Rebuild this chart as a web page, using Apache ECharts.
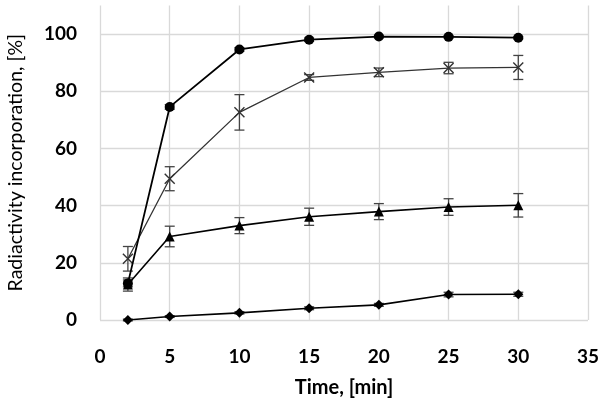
<!DOCTYPE html>
<html><head><meta charset="utf-8">
<script src="https://cdn.jsdelivr.net/npm/echarts@6/dist/echarts.min.js"></script>
<style>html,body{margin:0;padding:0;background:#fff}#c{width:600px;height:401px}</style>
</head><body><div id="c"></div>
<script>
const times = [2, 5, 10, 15, 20, 25, 30];
const circleVals = [12.8, 74.5, 94.6, 98, 99.1, 99, 98.7];
const circleErr  = [1.2, 0.8, 0.6, 0.6, 0.4, 0.4, 0.4];
const crossVals  = [21.4, 49.4, 72.6, 84.8, 86.6, 88.1, 88.3];
const crossErr   = [4.3, 4.2, 6.2, 1.0, 1.5, 2.0, 4.2];
const triVals    = [12.4, 29.2, 33.0, 36.1, 37.9, 39.5, 40.1];
const triErr     = [2.3, 3.6, 2.8, 3.0, 2.8, 2.9, 4.1];
const diaVals    = [0, 1.2, 2.5, 4.1, 5.3, 8.9, 9.0];
const diaErr     = [0.3, 0.3, 0.4, 0.5, 0.5, 0.8, 0.7];
const xTicks = [0, 5, 10, 15, 20, 25, 30, 35];
const yTicks = [0, 20, 40, 60, 80, 100];

function pts(vals){ return times.map((t,i)=>[t, vals[i]]); }
function errData(vals, errs){ return times.map((t,i)=>[t, vals[i]-errs[i], vals[i]+errs[i]]); }

function errSeries(vals, errs){
  return {
    type: 'custom',
    data: errData(vals, errs),
    z: 1,
    renderItem: function(params, api){
      const x = api.value(0);
      const lo = api.coord([x, api.value(1)]);
      const hi = api.coord([x, api.value(2)]);
      const w = 5;
      const st = {stroke: '#444', lineWidth: 1.3};
      return {type: 'group', children: [
        {type: 'line', shape: {x1: lo[0], y1: lo[1], x2: hi[0], y2: hi[1]}, style: st},
        {type: 'line', shape: {x1: lo[0]-w, y1: lo[1], x2: lo[0]+w, y2: lo[1]}, style: st},
        {type: 'line', shape: {x1: hi[0]-w, y1: hi[1], x2: hi[0]+w, y2: hi[1]}, style: st}
      ]};
    }
  };
}

const chart = echarts.init(document.getElementById('c'), null, {renderer: 'canvas'});
chart.setOption({
  animation: false,
  backgroundColor: '#fff',
  grid: {left: 100, right: 12, top: 5.4, bottom: 81, containLabel: false, outerBoundsMode: 'none'},
  xAxis: {
    type: 'value', min: 0, max: 35, interval: 5,
    name: 'Time, [min]', nameLocation: 'middle', nameGap: 58,
    nameTextStyle: {fontFamily: 'Lato', fontWeight: 'bold', fontSize: 20, color: '#000'},
    axisLine: {show: false}, axisTick: {show: false},
    axisLabel: {margin: 27, fontFamily: 'Lato', fontWeight: 'bold', fontSize: 19, color: '#000',
      formatter: v => xTicks.includes(v) ? String(v) : ''},
    splitLine: {show: true, lineStyle: {color: '#d9d9d9', width: 1.3}}
  },
  yAxis: {
    type: 'value', min: 0, max: 110, interval: 20,
    name: 'Radiactivity incorporation, [%]', nameLocation: 'middle', nameGap: 74,
    nameTextStyle: {fontFamily: 'Lato', fontWeight: 'normal', fontSize: 19.5, color: '#000'},
    axisLine: {show: false}, axisTick: {show: false},
    axisLabel: {margin: 23, fontFamily: 'Lato', fontWeight: 'bold', fontSize: 19, color: '#000',
      formatter: v => yTicks.includes(v) ? String(v) : ''},
    splitLine: {show: true, lineStyle: {color: ['#d9d9d9','#d9d9d9','#d9d9d9','#d9d9d9','#d9d9d9','#d9d9d9','rgba(0,0,0,0)'], width: 1.3}}
  },
  series: [
    errSeries(circleVals, circleErr),
    errSeries(crossVals, crossErr),
    errSeries(triVals, triErr),
    errSeries(diaVals, diaErr),
    {type: 'line', data: pts(diaVals), symbol: 'diamond', symbolSize: 10, z: 3,
      lineStyle: {color: '#000', width: 1.6}, itemStyle: {color: '#000'}},
    {type: 'line', data: pts(triVals), symbol: 'triangle', symbolSize: 10, z: 3,
      lineStyle: {color: '#000', width: 1.6}, itemStyle: {color: '#000'}},
    {type: 'line', data: pts(crossVals), symbol: 'path://M0,0L10,10M10,0L0,10', symbolSize: 10, z: 3,
      lineStyle: {color: '#333', width: 1.3}, itemStyle: {color: 'rgba(0,0,0,0)', borderColor: '#333', borderWidth: 1.4}},
    {type: 'line', data: pts(circleVals), symbol: 'circle', symbolSize: 10, z: 4,
      lineStyle: {color: '#000', width: 1.8}, itemStyle: {color: '#000'}}
  ]
});
</script></body></html>
